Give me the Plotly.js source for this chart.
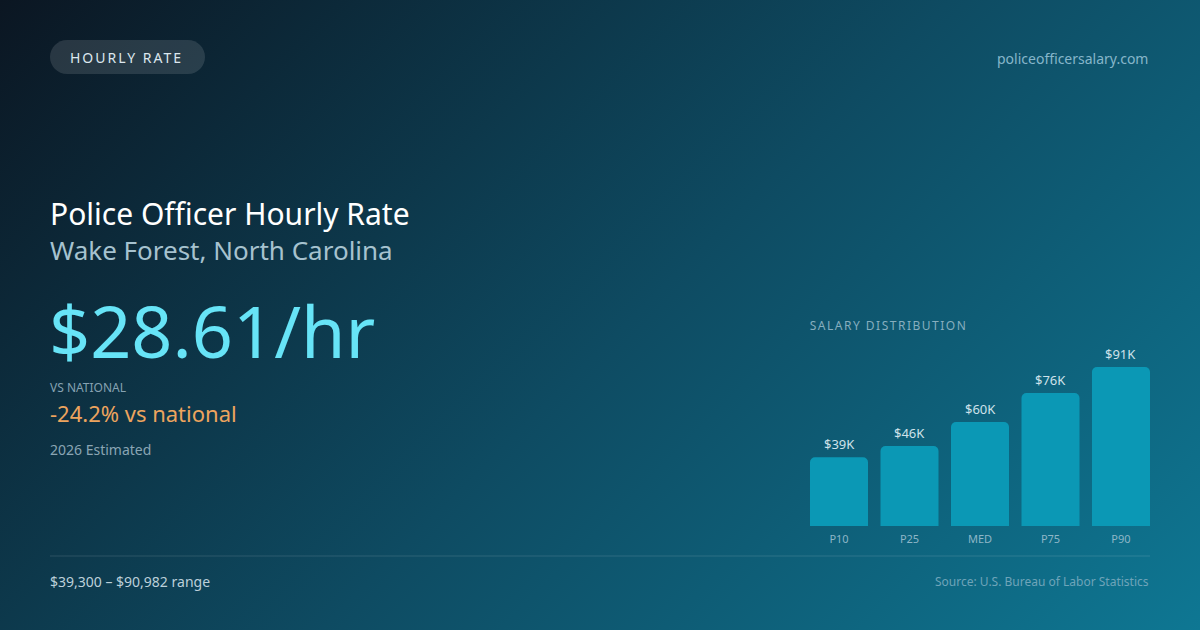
<!DOCTYPE html>
<html>
<head>
<meta charset="utf-8">
<script src="https://cdn.plot.ly/plotly-3.0.1.min.js"></script>
<style>
  html, body { margin: 0; padding: 0; }
  #card {
    width: 1200px; height: 630px;
    background: linear-gradient(135deg, #0b1622 0%, #0e4b62 52%, #0e7793 100%);
  }
</style>
</head>
<body>
<div id="card"></div>
<script>
/* ── Police officer pay card — bar chart of the salary percentiles ── */

const PERCENTILES = ["P10", "P25", "MED", "P75", "P90"];
const SALARY_K    = [39.3, 45.8, 59.5, 76.1, 90.98];   // annual, thousands of $

const HOURLY      = "$28.61/hr";
const VS_NATIONAL = "-24.2% vs national";
const RANGE_TEXT  = "$39,300 – $90,982 range";

const W = 1200, H = 630;
const FONT = "Noto Sans, Open Sans, sans-serif";
const BAR_COLOR = "#0b98b5";

// pixel -> paper helpers for the text around the chart
const px = x => x / W;
const py = y => 1 - y / H;

function pillPath(left, top, w, h) {
  const r = h / 2;
  const x0 = px(left), x1 = px(left + w);
  const xa = px(left + r), xb = px(left + w - r);
  const yt = py(top), yb = py(top + h), ym = py(top + r);
  const k = 0.552;
  const dx = px(r * k), dyU = (yt - ym) * k;
  return `M ${xa},${yt} L ${xb},${yt} ` +
         `C ${xb + dx},${yt} ${x1},${ym + dyU} ${x1},${ym} ` +
         `C ${x1},${ym - dyU} ${xb + dx},${yb} ${xb},${yb} ` +
         `L ${xa},${yb} ` +
         `C ${xa - dx},${yb} ${x0},${ym - dyU} ${x0},${ym} ` +
         `C ${x0},${ym + dyU} ${xa - dx},${yt} ${xa},${yt} Z`;
}

// annotations carry ~2px of padding, so nudge them back onto the wanted edge
function label(x, y, text, size, color, anchor) {
  const right = anchor === "right";
  return {
    xref: "paper", yref: "paper", x: px(right ? x + 2 : x - 2), y: py(y),
    text, showarrow: false,
    xanchor: right ? "right" : "left", yanchor: "middle",
    font: { family: FONT, size, color },
  };
}

/* ── 1. Bars ── */
const bars = {
  type: "bar",
  x: PERCENTILES,
  y: SALARY_K,
  marker: { color: BAR_COLOR, cornerradius: 5, line: { width: 0 } },
  hoverinfo: "skip",
  showlegend: false,
};

/* ── 2. Value labels over the bars ── */
const valueLabels = SALARY_K.map((v, i) => ({
  xref: "x", yref: "y", x: PERCENTILES[i], y: v,
  text: "$" + Math.round(v) + "K",
  showarrow: false, yanchor: "bottom", yshift: 2,
  font: { family: FONT, size: 13, color: "#cfe2ea" },
}));

/* ── 3. Card text ── */
// the spaced-caps labels are centred by plotly, so their x is set past the
// visible start by half of the extra letter spacing
const cardText = [
  label(81, 57, "HOURLY RATE", 14, "#dce7ee"),
  label(1148, 58, "policeofficersalary.com", 14, "#86b6ca", "right"),
  label(50, 213, "Police Officer Hourly Rate", 30, "#ffffff"),
  label(50, 250, "Wake Forest, North Carolina", 26, "#a6c2cf"),
  label(49, 330, HOURLY, 72, "#67e4f7"),
  label(50, 387, "VS NATIONAL", 12, "#86a2b2"),
  label(50, 413, VS_NATIONAL, 22, "#eda45e"),
  label(50, 449, "2026 Estimated", 14, "#8aa5b4"),
  label(824, 325, "SALARY DISTRIBUTION", 12, "#86aebf"),
  label(50, 581, RANGE_TEXT, 14, "#bcd0da"),
  label(1149, 581, "Source: U.S. Bureau of Labor Statistics", 12, "#6ea4b9", "right"),
];

/* ── 4. Shapes ── */
const shapes = [
  { type: "path", xref: "paper", yref: "paper", path: pillPath(50, 40, 155, 34),
    fillcolor: "rgba(255,255,255,0.12)", line: { width: 0 }, layer: "below" },
  { type: "line", xref: "paper", yref: "paper",
    x0: px(50), x1: px(1150), y0: py(556), y1: py(556),
    line: { color: "rgba(255,255,255,0.13)", width: 1 } },
];

/* ── 5. Layout ── */
const layout = {
  width: W, height: H,
  paper_bgcolor: "rgba(0,0,0,0)",
  plot_bgcolor:  "rgba(0,0,0,0)",
  margin: { l: 0, r: 0, t: 0, b: 0 },
  font: { family: FONT, color: "#cfe2ea" },
  bargap: 0.177,
  xaxis: {
    domain: [px(810), px(1150)],
    anchor: "y",
    type: "category",
    range: [-0.4115, 4.4115],
    showgrid: false, zeroline: false, showline: false,
    ticks: "", ticklabelstandoff: 5,
    tickfont: { family: FONT, size: 11, color: "#8db6c7" },
    fixedrange: true,
  },
  yaxis: {
    domain: [py(526), py(351.3)],
    range: [0, 100],
    visible: false,
    fixedrange: true,
  },
  shapes,
  annotations: [...cardText, ...valueLabels],
  showlegend: false,
};

Plotly.newPlot("card", [bars], layout, { staticPlot: true, displayModeBar: false }).then(() => {
  // spaced caps for the pill and the chart heading
  document.querySelectorAll("#card .annotation-text").forEach(el => {
    if (el.textContent === "HOURLY RATE") el.style.letterSpacing = "2px";
    if (el.textContent === "SALARY DISTRIBUTION") el.style.letterSpacing = "1.5px";
  });
});
</script>
</body>
</html>
